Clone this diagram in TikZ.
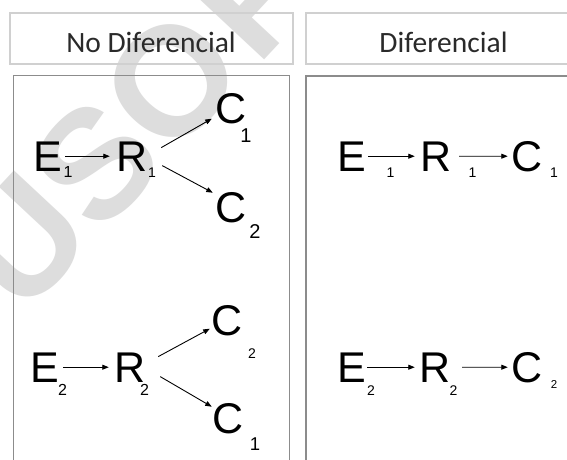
\documentclass[tikz,border=0pt]{standalone}
\usepackage{fontspec}
\setmainfont{Liberation Sans}
\newfontfamily\hdrfont{Carlito}
\usetikzlibrary{arrows.meta}
\definecolor{hdrgray}{HTML}{D0D0D0}
\definecolor{pnlgray}{HTML}{8C8C8C}
\definecolor{hdrtext}{HTML}{2A2A2A}
\definecolor{wmgray}{HTML}{DDDDDD}
\begin{document}
\begin{tikzpicture}[x=1pt,y=1pt,
  lt/.style={font=\fontsize{43}{43}\selectfont, inner sep=0pt, anchor=base},
  sbs/.style={font=\fontsize{14}{14}\selectfont, inner sep=0pt, anchor=base},
  sbm/.style={font=\fontsize{16}{16}\selectfont, inner sep=0pt, anchor=base},
  sbl/.style={font=\fontsize{20}{20}\selectfont, inner sep=0pt, anchor=base},
  arr/.style={-{Triangle[length=6.5pt,width=5pt]}, line width=0.9pt},
  hdr/.style={draw=hdrgray, line width=2pt},
  pnl/.style={draw=pnlgray, line width=1.2pt},
  htext/.style={font=\hdrfont\fontsize{29.5}{29.5}\selectfont, text=hdrtext, inner sep=0pt, anchor=base}]
\useasboundingbox (0,0) rectangle (567,-459);
\clip (0,0) rectangle (567,-459);
\fill[white] (0,0) rectangle (567,-459);
% watermark
\node[rotate=47, anchor=base west, inner sep=0pt, text=wmgray,
  font=\fontsize{155}{155}\selectfont\bfseries] (wm) at (22.6,-319) {USO\hspace{0.05em}P};
% headers
\draw[hdr] (10,-12.7) rectangle (292.5,-64.3);
\draw[hdr] (306,-12.7) rectangle (581,-64.3);
\node[htext] (h1) at (151,-52.5) {No Diferencial};
\node[htext] (h2) at (443.5,-52.7) {Diferencial};
% panels
\draw[pnl] (13.3,-75.5) rectangle (289.5,-475);
\draw[pnl] (306,-76) rectangle (590,-475);
% ---- left top
\node[lt] (E1) at (47.5,-171) {E};
\node[sbm] (e1) at (68,-177) {1};
\node[lt] (R1) at (132,-171) {R};
\node[sbs] (r1) at (152,-177) {1};
\node[lt] (C1a) at (231,-123) {C};
\node[sbl] (c1a) at (246,-142) {1};
\node[lt] (C2a) at (231,-222) {C};
\node[sbl] (c2a) at (255,-238) {2};
\draw[arr, shorten <=3.2pt, shorten >=6.5pt] (E1.east) -- (R1.west);
\draw[arr] ([xshift=13.5pt,yshift=8.6pt]R1.east) -- ([xshift=-3.5pt,yshift=-10.5pt]C1a.west);
\draw[arr] ([xshift=14.5pt,yshift=-9.4pt]R1.east) -- ([xshift=-2.5pt,yshift=14.5pt]C2a.west);
% ---- left bottom
\node[lt] (E2) at (45,-382) {E};
\node[sbm] (e2) at (62.5,-395) {2};
\node[lt] (R2) at (130,-382) {R};
\node[sbm] (r2) at (144.5,-395) {2};
\node[lt] (C2b) at (227.5,-335) {C};
\node[sbs] (c2b) at (252,-358) {2};
\node[lt] (C1b) at (228,-433) {C};
\node[font=\fontsize{18.5}{18.5}\selectfont, inner sep=0pt, anchor=base] (c1b) at (255,-450) {1};
\draw[arr, shorten <=3.7pt, shorten >=5.5pt] (E2.east) -- (R2.west);
\draw[arr] ([xshift=12.5pt,yshift=10.6pt]R2.east) -- ([xshift=-2pt,yshift=-8.5pt]C2b.west);
\draw[arr] ([xshift=14.5pt,yshift=-9.4pt]R2.east) -- ([xshift=-0.5pt,yshift=11.5pt]C1b.west);
% ---- right top
\node[lt] (E3) at (352,-171) {E};
\node[sbs] (e3) at (390.5,-177) {1};
\node[lt] (R3) at (436,-171) {R};
\node[sbs] (r3) at (472.5,-177) {1};
\node[lt] (C3) at (527.5,-171) {C};
\node[sbs] (c3) at (554,-177) {1};
\draw[arr, shorten <=1.7pt, shorten >=5.5pt] (E3.east) -- (R3.west);
\draw[arr, shorten <=7.5pt, shorten >=4pt] (R3.east) -- (C3.west);
% ---- right bottom
\node[lt] (E4) at (352,-382) {E};
\node[sbs] (e4) at (371,-395) {2};
\node[lt] (R4) at (435,-382) {R};
\node[sbs] (r4) at (453.5,-395) {2};
\node[lt] (C4) at (527.5,-382) {C};
\node[font=\fontsize{11.5}{11.5}\selectfont, inner sep=0pt, anchor=base] (c4) at (554,-388) {2};
\draw[arr, shorten <=0.7pt, shorten >=4.5pt] (E4.east) -- (R4.west);
\draw[arr, shorten <=11.5pt, shorten >=4pt] (R4.east) -- (C4.west);
\end{tikzpicture}
\end{document}
